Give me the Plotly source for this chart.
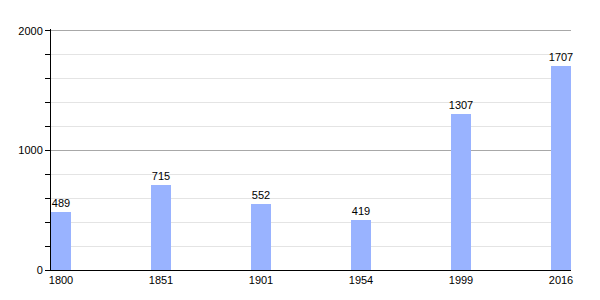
import plotly.graph_objects as go

years = ["1800", "1851", "1901", "1954", "1999", "2016"]
population = [489, 715, 552, 419, 1307, 1707]
y_ticks = [0, 1000, 2000]

fig = go.Figure(go.Bar(
    x=years, y=population, width=0.2,
    marker=dict(color="#99B3FF", line=dict(width=0)),
    text=[str(v) for v in population], textposition="outside",
    textfont=dict(family="Liberation Sans, Arial", size=11, color="#000"),
    cliponaxis=False,
))
fig.update_layout(
    width=600, height=300,
    margin=dict(l=51, r=29, t=29, b=30),
    plot_bgcolor="white", paper_bgcolor="white",
    showlegend=False,
    font=dict(family="Liberation Sans, Arial", size=11, color="#000"),
    bargap=0,
    uniformtext=dict(minsize=11, mode="show"),
)
fig.update_xaxes(
    type="category", range=[-0.1, 5.1],
    showline=True, linecolor="#000", linewidth=1,
    ticks="", showgrid=False, tickfont=dict(size=11, color="#000"),
)
fig.update_yaxes(
    range=[0, 2016], tickvals=y_ticks,
    showline=True, linecolor="#000", linewidth=1,
    ticks="outside", ticklen=5, tickcolor="#000",
    showgrid=True, gridcolor="#A8A8A8", gridwidth=1,
    zeroline=False,
    minor=dict(dtick=200, ticks="outside", ticklen=5, tickcolor="#000",
               showgrid=True, gridcolor="#E4E4E4", gridwidth=1),
    tickfont=dict(size=11, color="#000"),
)
fig.write_html("out.html")
